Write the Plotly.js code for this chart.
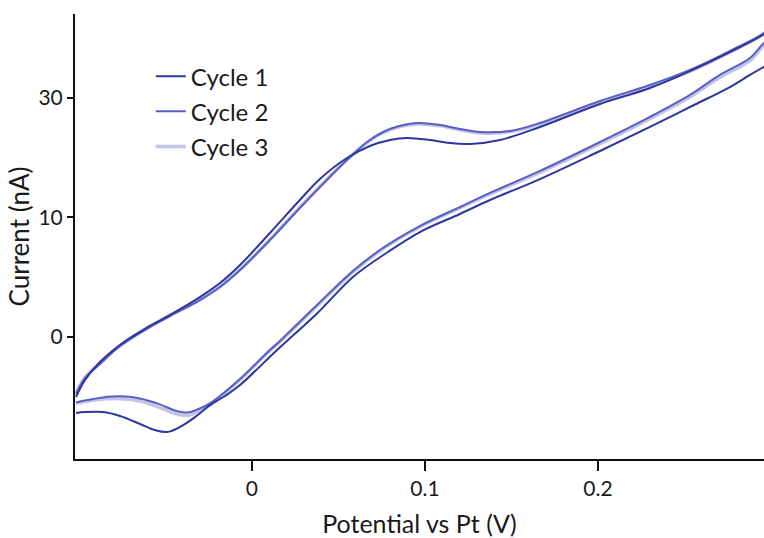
<!DOCTYPE html>
<html>
<head>
<meta charset="utf-8">
<script src="https://cdn.plot.ly/plotly-3.0.1.min.js"></script>
<style>html,body{margin:0;padding:0;background:#fff;}#chart{width:764px;height:538px;}</style>
</head>
<body>
<div id="chart"></div>
<script>
// Cycle 1: forward (upper) branch then reverse (lower) branch
const cycle1Potential = [-0.1017, -0.0965, -0.0879, -0.0763, -0.0590, -0.0474, -0.0301, -0.0185, -0.0069, 0.0104, 0.0277, 0.0393, 0.0549, 0.0682, 0.0798, 0.0896, 0.1029, 0.1145, 0.1260, 0.1434, 0.1665, 0.2012, 0.2301, 0.2532, 0.2763, 0.2960, 0.2994,
  0.2994, 0.2960, 0.2879, 0.2763, 0.2532, 0.2301, 0.2012, 0.1665, 0.1376, 0.1202, 0.0971, 0.0786, 0.0584, 0.0376, 0.0145, -0.0069, -0.0156, -0.0243, -0.0329, -0.0416, -0.0491, -0.0561, -0.0647, -0.0763, -0.0861, -0.0965, -0.1017];
const cycle1Current = [-5.04, -3.62, -2.12, -0.69, 0.90, 1.82, 3.32, 4.49, 6.00, 8.68, 11.44, 13.20, 14.95, 15.96, 16.46, 16.63, 16.46, 16.21, 16.13, 16.46, 17.55, 19.47, 20.81, 22.23, 23.82, 25.33, 25.80,
  22.82, 22.57, 21.90, 20.89, 19.22, 17.55, 15.54, 13.19, 11.44, 10.27, 8.76, 7.09, 5.00, 1.95, -1.11, -4.04, -4.96, -5.72, -6.72, -7.55, -7.97, -7.81, -7.30, -6.63, -6.30, -6.30, -6.38];

const cycle2Potential = [-0.1017, -0.0965, -0.0879, -0.0763, -0.0590, -0.0474, -0.0301, -0.0185, -0.0069, 0.0104, 0.0277, 0.0393, 0.0549, 0.0682, 0.0798, 0.0954, 0.1087, 0.1202, 0.1318, 0.1491, 0.1665, 0.2012, 0.2301, 0.2532, 0.2763, 0.2960, 0.2994,
  0.2994, 0.2960, 0.2879, 0.2705, 0.2532, 0.2301, 0.2012, 0.1665, 0.1376, 0.1202, 0.0971, 0.0757, 0.0584, 0.0376, 0.0162, 0.0104, -0.0069, -0.0156, -0.0243, -0.0329, -0.0370, -0.0445, -0.0532, -0.0647, -0.0763, -0.0861, -0.0965, -0.1017];
const cycle2Current = [-4.79, -3.46, -2.28, -0.78, 0.81, 1.73, 3.07, 4.16, 5.58, 8.09, 10.77, 12.53, 14.79, 16.46, 17.38, 17.88, 17.71, 17.38, 17.13, 17.21, 17.88, 19.72, 21.06, 22.32, 23.91, 25.41, 25.90,
  24.83, 24.57, 23.32, 21.90, 20.23, 18.39, 16.29, 13.87, 12.03, 10.85, 9.26, 7.42, 5.50, 2.65, -0.36, -1.11, -3.54, -4.62, -5.58, -6.17, -6.34, -6.17, -5.66, -5.16, -4.99, -5.08, -5.33, -5.50];

const cycle3Potential = [-0.1017, -0.0965, -0.0879, -0.0763, -0.0590, -0.0474, -0.0301, -0.0185, -0.0069, 0.0104, 0.0277, 0.0393, 0.0549, 0.0682, 0.0798, 0.0954, 0.1087, 0.1202, 0.1318, 0.1491, 0.1665, 0.2012, 0.2301, 0.2532, 0.2763, 0.2960, 0.2994,
  0.2994, 0.2960, 0.2879, 0.2705, 0.2532, 0.2301, 0.2012, 0.1665, 0.1376, 0.1202, 0.0971, 0.0757, 0.0584, 0.0376, 0.0162, 0.0104, -0.0069, -0.0156, -0.0243, -0.0329, -0.0370, -0.0445, -0.0532, -0.0647, -0.0763, -0.0861, -0.0965, -0.1017];
const cycle3Current = [-4.70, -3.40, -2.22, -0.74, 0.86, 1.78, 3.10, 4.20, 5.62, 8.13, 10.82, 12.56, 14.80, 16.42, 17.32, 17.80, 17.64, 17.30, 17.05, 17.14, 17.80, 19.62, 20.95, 22.20, 23.80, 25.35, 25.85,
  24.70, 24.40, 23.10, 21.70, 20.05, 18.24, 16.15, 13.75, 11.94, 10.78, 9.20, 7.36, 5.43, 2.58, -0.42, -1.16, -3.60, -4.70, -5.72, -6.38, -6.58, -6.42, -5.92, -5.38, -5.18, -5.22, -5.42, -5.58];

const seriesNames = ["Cycle 1", "Cycle 2", "Cycle 3"];
const xTickValues = [0, 0.1, 0.2];
const xTickLabels = ["0", "0.1", "0.2"];
const yTickValues = [0, 10, 20];
const yTickLabels = ["0", "10", "30"];

const FONT = "Lato, 'Open Sans', sans-serif";

const traces = [
  {x: cycle3Potential, y: cycle3Current, name: seriesNames[2], legendgroup: "c3", legendrank: 3, mode: "lines",
   line: {color: "#c3c3e8", width: 3.5, shape: "spline", smoothing: 1}},
  {x: cycle2Potential, y: cycle2Current, name: seriesNames[1], legendgroup: "c2", legendrank: 2, mode: "lines",
   line: {color: "#5a60c2", width: 2, shape: "spline", smoothing: 1}},
  {x: cycle1Potential, y: cycle1Current, name: seriesNames[0], legendgroup: "c1", legendrank: 1, mode: "lines",
   line: {color: "#2e379e", width: 2, shape: "spline", smoothing: 1}}
];

const layout = {
  width: 764, height: 538,
  margin: {l: 75, r: 0, t: 14, b: 79},
  paper_bgcolor: "#fff", plot_bgcolor: "#fff",
  font: {family: FONT, color: "#1a1a1a"},
  showlegend: true,
  legend: {x: 0.110, y: 0.91, xanchor: "left", yanchor: "top", traceorder: "grouped",
           tracegroupgap: 1,
           font: {size: 24, family: FONT, color: "#1a1a1a"}, bgcolor: "rgba(0,0,0,0)"},
  xaxis: {range: [-0.1023, 0.2960], tickvals: xTickValues, ticktext: xTickLabels,
          ticks: "outside", ticklen: 10, tickwidth: 2, tickcolor: "#111",
          showline: true, linewidth: 2, linecolor: "#111", showgrid: false, zeroline: false,
          tickfont: {size: 21, family: FONT},
          title: {text: "Potential vs Pt (V)", font: {size: 25, family: FONT}, standoff: 18}},
  yaxis: {range: [-10.23, 27.0], tickvals: yTickValues, ticktext: yTickLabels,
          ticks: "outside", ticklen: 6, tickwidth: 2, tickcolor: "#111",
          showline: true, linewidth: 2, linecolor: "#111", showgrid: false, zeroline: false,
          tickfont: {size: 21, family: FONT},
          title: {text: "Current (nA)", font: {size: 26, family: FONT}, standoff: 1}}
};

Plotly.newPlot("chart", traces, layout, {displayModeBar: false, staticPlot: true});
</script>
</body>
</html>
